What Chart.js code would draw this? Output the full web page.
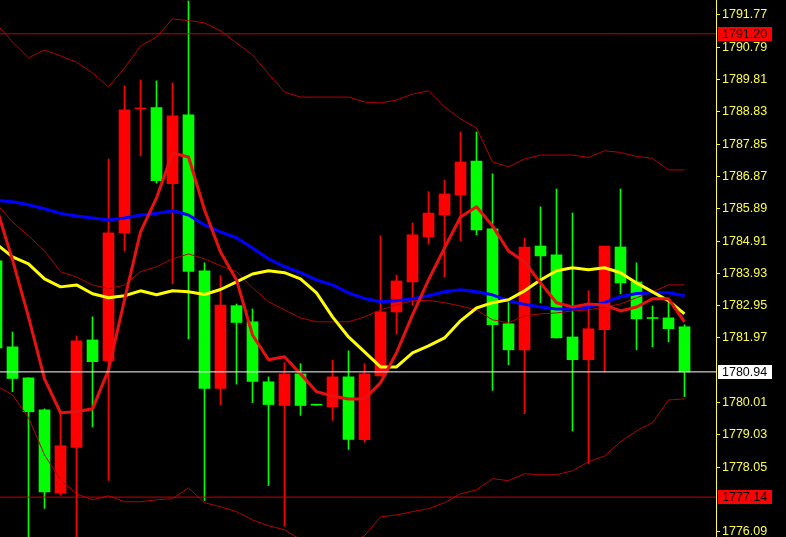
<!DOCTYPE html>
<html>
<head>
  <meta charset="UTF-8" />
  <title>Chart</title>
  <script src="https://cdn.jsdelivr.net/npm/chart.js"></script>
  <style>
    html, body {
      margin: 0;
      padding: 0;
      background: #000;
    }
    #wrap {
      width: 786px;
      height: 537px;
    }
  </style>
</head>
<body>

  <div id="wrap"><canvas id="chart" width="786" height="537"></canvas></div>

  <script>
    // bar -1 is the candle cut off at the left edge
    const bars = [-1, 0, 1, 2, 3, 4, 5, 6, 7, 8, 9, 10, 11, 12, 13, 14, 15, 16, 17, 18, 19, 20,
      21, 22, 23, 24, 25, 26, 27, 28, 29, 30, 31, 32, 33, 34, 35, 36, 37, 38, 39, 40, 41, 42];

    const opens = [1784.31, 1781.70, 1780.76, 1779.79, 1777.26, 1778.65, 1781.91, 1781.28, 1785.16, 1788.92,
      1788.96, 1786.65, 1788.74, 1784.01, 1780.44, 1782.95, 1782.46, 1780.64, 1779.92, 1780.88,
      1779.94, 1779.88, 1780.79, 1778.88, 1780.82, 1782.76, 1783.67, 1785.04, 1785.70, 1786.31,
      1787.34, 1785.28, 1782.40, 1781.61, 1784.76, 1784.49, 1782.00, 1781.31, 1782.22, 1784.73,
      1783.67, 1782.57, 1782.58, 1782.31];
    const highs = [1784.49, 1782.15, 1780.76, 1779.82, 1779.79, 1782.03, 1782.61, 1787.40, 1789.62, 1789.80,
      1789.77, 1789.71, 1792.19, 1784.25, 1783.86, 1783.00, 1782.85, 1780.79, 1781.22, 1781.19,
      1779.94, 1781.30, 1781.58, 1781.19, 1785.07, 1783.88, 1785.46, 1786.41, 1786.76, 1788.22,
      1788.22, 1786.95, 1783.07, 1785.00, 1785.95, 1786.49, 1785.76, 1783.40, 1784.76, 1786.49,
      1784.25, 1782.94, 1783.04, 1782.37];
    const lows = [1781.55, 1780.34, 1775.70, 1776.80, 1777.21, 1775.70, 1779.27, 1777.65, 1784.62, 1787.50,
      1786.67, 1783.62, 1781.94, 1777.04, 1779.94, 1780.57, 1780.01, 1777.49, 1776.26, 1779.62,
      1779.93, 1779.47, 1778.59, 1778.81, 1780.82, 1782.09, 1782.97, 1784.82, 1783.83, 1784.92,
      1785.10, 1780.38, 1781.15, 1779.67, 1783.04, 1781.97, 1779.15, 1778.16, 1780.94, 1783.31,
      1781.61, 1781.70, 1781.85, 1780.19];
    const closes = [1781.67, 1780.74, 1779.73, 1777.30, 1778.70, 1781.88, 1781.25, 1785.16, 1788.89, 1788.93,
      1786.74, 1788.71, 1783.99, 1780.44, 1782.97, 1782.44, 1780.65, 1779.95, 1780.88, 1779.92,
      1779.93, 1780.79, 1778.89, 1780.88, 1782.76, 1783.70, 1785.10, 1785.76, 1786.34, 1787.31,
      1785.25, 1782.37, 1781.61, 1784.73, 1784.46, 1781.97, 1781.31, 1782.25, 1784.76, 1783.64,
      1782.55, 1782.56, 1782.25, 1780.94];

    // moving averages
    const fastMA = [1785.92, 1784.34, 1782.61, 1780.73, 1779.70, 1779.73, 1779.82, 1781.00, 1783.13, 1785.19,
      1786.22, 1787.58, 1787.46, 1785.86, 1784.58, 1783.73, 1782.06, 1781.31, 1781.40, 1780.88,
      1780.34, 1780.21, 1780.12, 1780.12, 1780.61, 1781.52, 1782.67, 1783.73, 1784.70, 1785.64,
      1785.95, 1785.37, 1784.61, 1784.28, 1783.64, 1783.04, 1782.91, 1783.00, 1782.97, 1782.79,
      1782.91, 1783.16, 1783.16, 1782.46];
    const midMA = [1784.82, 1784.43, 1784.22, 1783.76, 1783.52, 1783.58, 1783.31, 1783.19, 1783.25, 1783.40,
      1783.28, 1783.40, 1783.37, 1783.29, 1783.44, 1783.67, 1783.91, 1784.01, 1783.95, 1783.76,
      1783.34, 1782.61, 1782.00, 1781.55, 1781.09, 1781.09, 1781.52, 1781.73, 1781.97, 1782.49,
      1782.88, 1783.04, 1783.13, 1783.40, 1783.73, 1784.01, 1784.10, 1784.04, 1784.10, 1783.95,
      1783.64, 1783.37, 1783.10, 1782.70];
    const slowMA = [1786.14, 1786.10, 1786.01, 1785.89, 1785.75, 1785.67, 1785.61, 1785.55, 1785.61, 1785.70,
      1785.75, 1785.83, 1785.70, 1785.40, 1785.19, 1785.01, 1784.70, 1784.37, 1784.13, 1783.95,
      1783.73, 1783.58, 1783.34, 1783.17, 1783.07, 1783.10, 1783.16, 1783.25, 1783.37, 1783.43,
      1783.37, 1783.28, 1783.10, 1782.99, 1782.91, 1782.85, 1782.85, 1782.90, 1783.05, 1783.22,
      1783.32, 1783.34, 1783.34, 1783.25];

    // bollinger bands
    const bandUp = [1791.50, 1790.95, 1790.47, 1790.71, 1790.53, 1790.34, 1790.01, 1789.59, 1790.16, 1790.83,
      1791.10, 1791.65, 1791.60, 1791.53, 1791.29, 1790.92, 1790.56, 1789.98, 1789.43, 1789.28,
      1789.28, 1789.28, 1789.28, 1789.13, 1789.10, 1789.19, 1789.37, 1789.47, 1788.98, 1788.62,
      1788.34, 1787.31, 1787.16, 1787.40, 1787.52, 1787.52, 1787.52, 1787.45, 1787.65, 1787.60,
      1787.48, 1787.42, 1787.07, 1787.07];
    const bandMid = [1786.04, 1785.49, 1785.07, 1784.61, 1783.98, 1783.82, 1783.58, 1783.46, 1783.58, 1783.98,
      1784.13, 1784.37, 1784.52, 1784.37, 1784.16, 1783.98, 1783.49, 1783.07, 1782.82, 1782.58,
      1782.46, 1782.46, 1782.46, 1782.61, 1782.82, 1782.97, 1783.10, 1783.11, 1783.04, 1782.94,
      1782.82, 1782.52, 1782.43, 1782.64, 1782.70, 1782.73, 1782.79, 1782.82, 1782.91, 1783.00,
      1783.19, 1783.37, 1783.58, 1783.58];
    const bandLow = [1780.52, 1780.24, 1779.55, 1778.42, 1777.67, 1777.24, 1777.06, 1777.18, 1777.00, 1777.00,
      1777.06, 1777.09, 1777.42, 1776.97, 1776.85, 1776.70, 1776.45, 1776.27, 1776.15, 1775.85,
      1775.70, 1775.66, 1775.73, 1775.97, 1776.54, 1776.60, 1776.70, 1776.79, 1776.97, 1777.24,
      1777.36, 1777.70, 1777.64, 1777.85, 1777.82, 1777.82, 1777.94, 1778.21, 1778.39, 1778.82,
      1779.15, 1779.40, 1780.09, 1780.12];

    const tickLabels = [1791.77, 1790.79, 1789.81, 1788.83, 1787.85, 1786.87, 1785.89, 1784.91,
      1783.93, 1782.95, 1781.97, 1780.01, 1779.03, 1778.05, 1776.09];

    // horizontal levels: high line, bid, low line
    const levels = [1791.20, 1780.94, 1777.14];

    const UP = '#ff0000', DOWN = '#00ff00', AXIS = '#ffff40';
    const levelColor = ['#c80000', '#ffffff', '#c80000'];
    const tagColor = ['#ff0000', '#ffffff', '#ff0000'];
    const font = '"Liberation Sans", Arial, sans-serif';

    const candleColors = bars.map((b, i) => closes[i] >= opens[i] ? UP : DOWN);

    function lineSet(values, color, width, order) {
      return {
        type: 'line',
        data: bars.map((b, i) => ({ x: b, y: values[i] })),
        borderColor: color,
        borderWidth: width,
        borderJoinStyle: 'round',
        pointRadius: 0,
        tension: 0,
        order: order
      };
    }

    const datasets = [];
    levels.forEach((v, i) => {
      datasets.push({
        type: 'line',
        data: [{ x: -2, y: v }, { x: 45, y: v }],
        borderColor: levelColor[i],
        borderWidth: 1,
        pointRadius: 0,
        clip: 0,
        order: 0
      });
    });
    datasets.push(lineSet(fastMA, '#e81010', 3, 1));
    datasets.push(lineSet(midMA, '#ffff00', 3, 2));
    datasets.push(lineSet(slowMA, '#0000ff', 3, 3));
    datasets.push(lineSet(bandUp, '#b40000', 1, 4));
    datasets.push(lineSet(bandMid, '#b40000', 1, 4));
    datasets.push(lineSet(bandLow, '#b40000', 1, 4));
    // candle bodies
    datasets.push({
      type: 'bar',
      data: bars.map((b, i) => ({ x: b, y: [opens[i], closes[i]] })),
      backgroundColor: candleColors,
      borderWidth: 0,
      barThickness: 11,
      minBarLength: 1,
      grouped: false,
      order: 5
    });
    // wicks
    datasets.push({
      type: 'bar',
      data: bars.map((b, i) => ({ x: b, y: [lows[i], highs[i]] })),
      backgroundColor: candleColors,
      borderWidth: 0,
      barThickness: 1,
      grouped: false,
      order: 6
    });

    // price tags on the axis for the level lines
    const levelTags = {
      id: 'levelTags',
      afterDraw(chart) {
        const y = chart.scales.y;
        const ctx = chart.ctx;
        ctx.save();
        ctx.font = '12.5px ' + font;
        ctx.textBaseline = 'middle';
        levels.forEach((v, i) => {
          const py = Math.round(y.getPixelForValue(v));
          ctx.fillStyle = tagColor[i];
          ctx.fillRect(y.left + 2, py - 7, 54, 14);
          ctx.fillStyle = '#000';
          ctx.fillText(v.toFixed(2), y.left + 6, py + 0.5);
        });
        ctx.restore();
      }
    };

    new Chart(document.getElementById('chart'), {
      type: 'bar',
      data: { datasets: datasets },
      options: {
        responsive: false,
        animation: false,
        layout: { padding: 0 },
        plugins: {
          legend: { display: false },
          tooltip: { enabled: false }
        },
        scales: {
          x: {
            type: 'linear',
            min: -0.78125,
            max: 43.96875,
            offset: false,
            display: false,
            grid: { offset: false }
          },
          y: {
            type: 'linear',
            position: 'right',
            min: 1775.93,
            max: 1792.225,
            beginAtZero: false,
            border: { display: true, color: AXIS, width: 1 },
            grid: { drawOnChartArea: false, drawTicks: true, tickLength: 4, color: AXIS },
            ticks: {
              autoSkip: false,
              padding: 2,
              color: AXIS,
              font: { family: font, size: 12.5 },
              callback: v => v.toFixed(2)
            },
            afterBuildTicks: scale => {
              scale.ticks = tickLabels.map(v => ({ value: v }));
            },
            afterFit: scale => {
              scale.width = 70;
              scale.paddingTop = 0;
              scale.paddingBottom = 0;
            }
          }
        }
      },
      plugins: [levelTags]
    });
  </script>

</body>
</html>
